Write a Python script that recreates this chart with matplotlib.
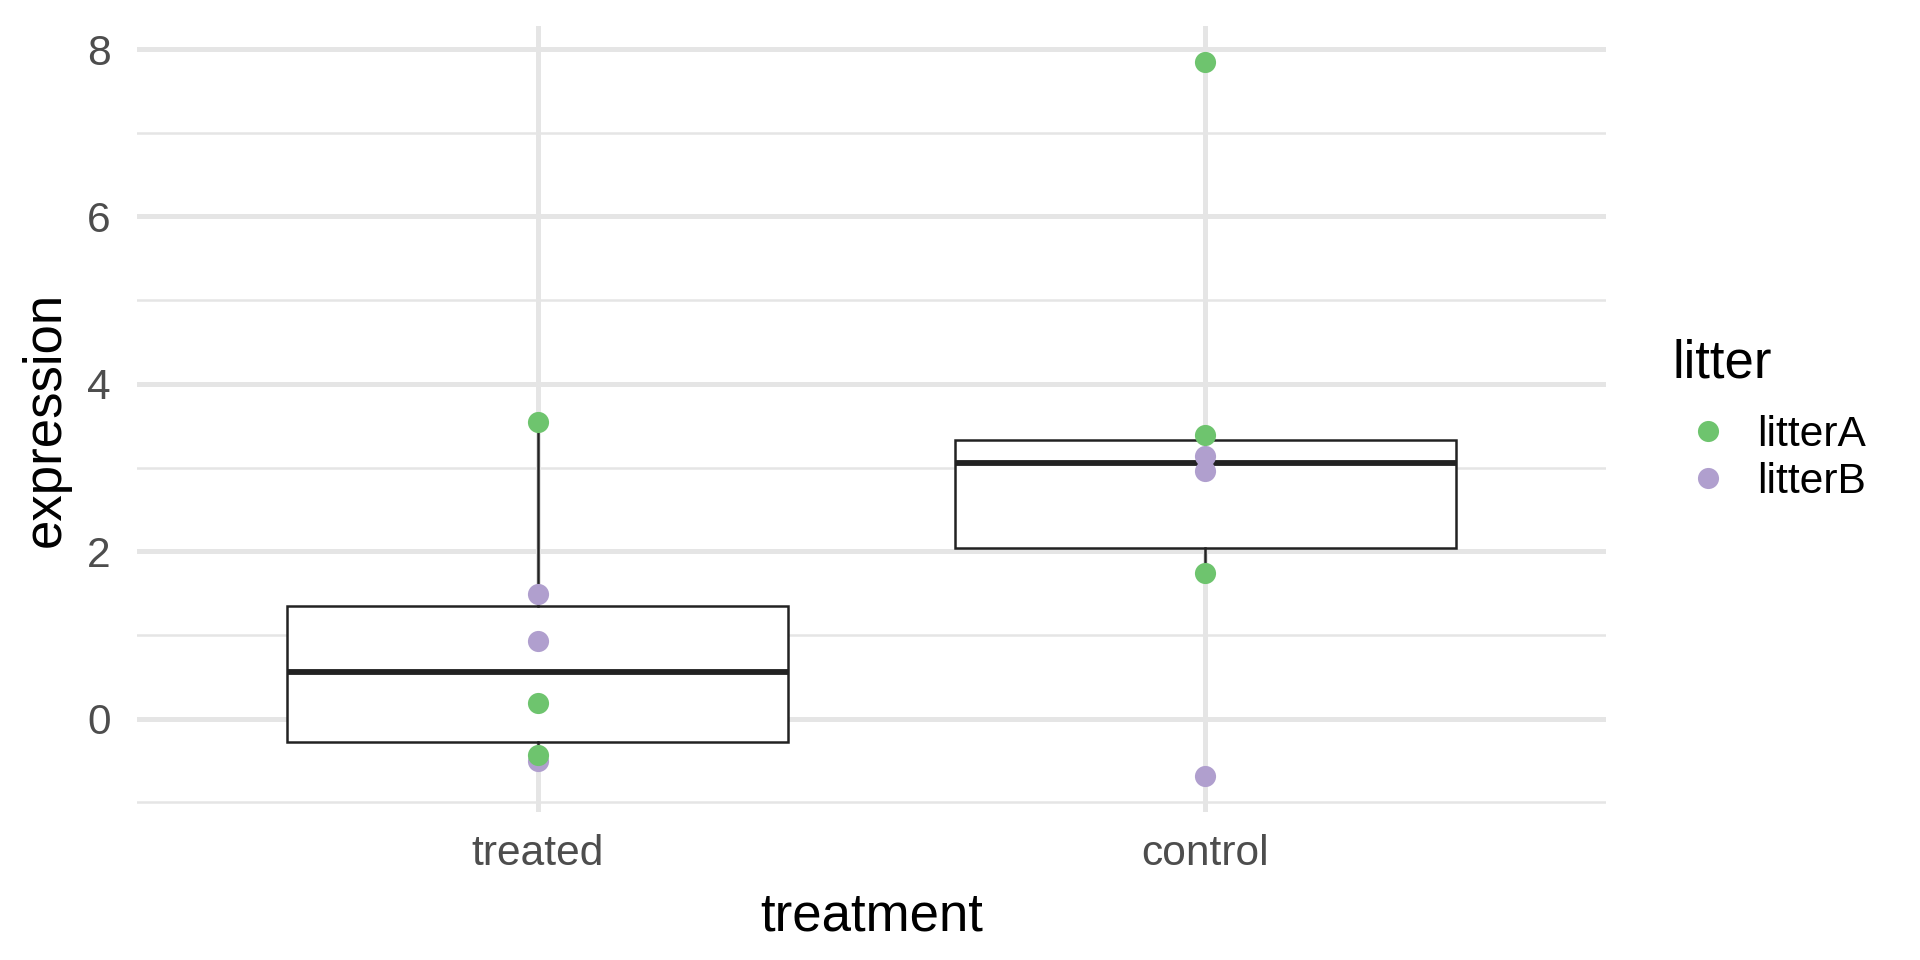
import matplotlib
matplotlib.use("Agg")
import matplotlib.pyplot as plt
import numpy as np

plt.rcParams['font.family'] = ['Liberation Sans', 'DejaVu Sans']

# data
groups = ['treated', 'control']
treated_A = [3.55, 0.19, -0.43]
treated_B = [1.49, 0.93, -0.50]
control_A = [7.85, 3.39, 1.74]
control_B = [3.14, 2.96, -0.69]

green = '#6EC46E'
purple = '#B09FCE'
grid_col = '#E5E5E5'

fig = plt.figure(figsize=(9.6, 4.8), dpi=200)
ax = fig.add_axes([0.0715, 0.154, 0.8365 - 0.0715, 0.973 - 0.154])

all_treated = treated_A + treated_B
all_control = control_A + control_B

# ggplot-style boxes: no outliers drawn, whiskers at 1.5 IQR
bp = ax.boxplot([all_treated, all_control], positions=[1, 2], widths=0.75,
                showfliers=False, patch_artist=True, whis=1.5,
                boxprops=dict(facecolor='white', edgecolor='#222222', linewidth=0.9),
                medianprops=dict(color='#222222', linewidth=2.1),
                whiskerprops=dict(color='#222222', linewidth=0.9),
                capprops=dict(linewidth=0), zorder=2)

ax.scatter([1] * len(treated_B), treated_B, s=58, color=purple, zorder=3, linewidths=0)
ax.scatter([2] * len(control_B), control_B, s=58, color=purple, zorder=3, linewidths=0)
ax.scatter([1] * len(treated_A), treated_A, s=58, color=green, zorder=4, linewidths=0)
ax.scatter([2] * len(control_A), control_A, s=58, color=green, zorder=4, linewidths=0)

vals = all_treated + all_control
lo, hi = min(vals), max(vals)
pad = (hi - lo) * 0.05
ax.set_ylim(lo - pad, hi + pad)
ax.set_xlim(0.4, 2.6)

ax.set_xticks([1, 2])
ax.set_xticklabels(groups)
ax.set_yticks([0, 2, 4, 6, 8])
ax.set_yticks([-1, 1, 3, 5, 7], minor=True)

ax.grid(True, which='major', color=grid_col, linewidth=1.8, zorder=0)
ax.grid(True, which='minor', axis='y', color=grid_col, linewidth=0.9, zorder=0)
ax.set_axisbelow(True)
for s in ax.spines.values():
    s.set_visible(False)
ax.tick_params(which='both', length=0, labelsize=15.3, labelcolor='#4D4D4D')
ax.tick_params(axis='x', pad=8)
ax.tick_params(axis='y', pad=9.5)

ax.set_xlabel('treatment', fontsize=19, color='black', labelpad=6)
ax.set_ylabel('expression', fontsize=19, color='black', labelpad=6)

handles = [
    plt.Line2D([], [], marker='o', linestyle='', color=green, markersize=7.6, markeredgewidth=0),
    plt.Line2D([], [], marker='o', linestyle='', color=purple, markersize=7.6, markeredgewidth=0),
]
leg = fig.legend(handles, ['litterA', 'litterB'], title='litter',
                 loc='upper left', bbox_to_anchor=(0.8625, 0.6646),
                 frameon=False, fontsize=15.3, title_fontsize=19,
                 handletextpad=0.33, labelspacing=0.15, handlelength=1.65,
                 borderaxespad=0)
leg._legend_box.align = 'left'
leg._legend_box.sep = 9.5

fig.savefig('out.png', dpi=200, facecolor='white')
